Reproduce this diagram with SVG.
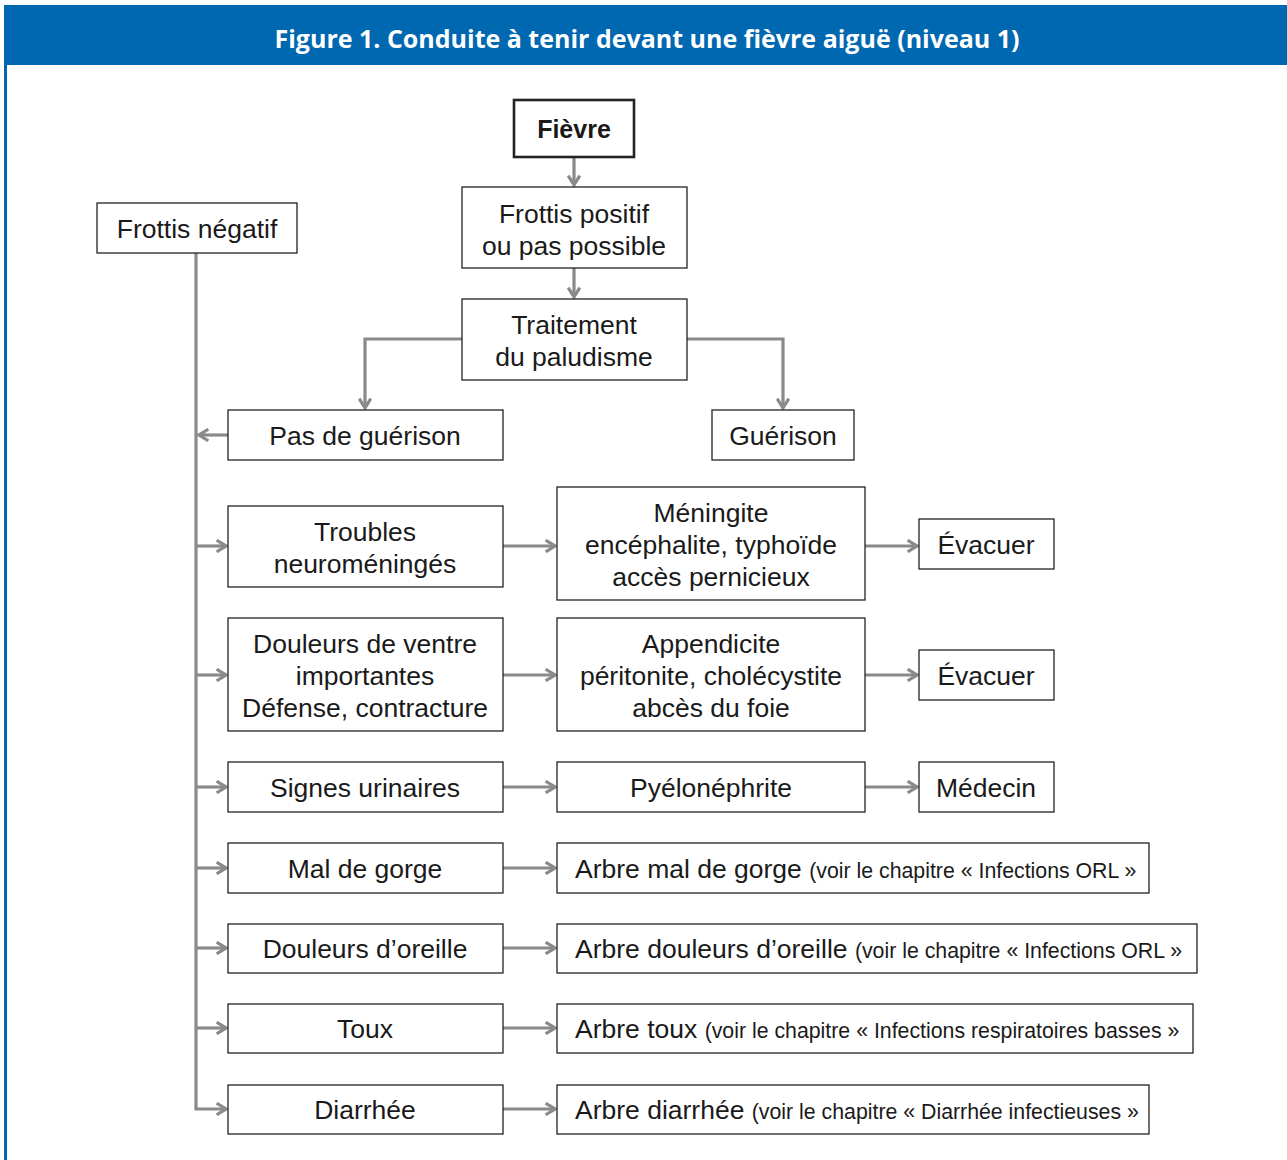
<svg xmlns="http://www.w3.org/2000/svg" width="1287" height="1160" viewBox="0 0 1287 1160">
<defs>
<style>
.box{fill:#fff;stroke:#222;stroke-width:1.3}
.bold{fill:#fff;stroke:#222;stroke-width:2.6}
text{font-family:"Liberation Sans",Arial,sans-serif;font-size:26.5px;fill:#1a1a1a;text-anchor:middle}
.s{font-size:21.3px}
.l{text-anchor:start}
.c{fill:none;stroke:#8a8a8a;stroke-width:3.2}
</style>
<marker id="ah" viewBox="0 0 10 10" refX="8.5" refY="5" markerWidth="4.5" markerHeight="4.5" markerUnits="strokeWidth" orient="auto">
<path d="M2,1 L8.5,5 L2,9" fill="none" stroke="#8a8a8a" stroke-width="2.2"/>
</marker>
</defs>
<rect x="0" y="0" width="1287" height="1160" fill="#fff"/>
<rect x="4" y="5" width="1283" height="60" fill="#0067b1"/>
<rect x="4" y="5" width="3" height="1155" fill="#0067b1"/>
<text x="647" y="48" style="font-family:'Open Sans','Liberation Sans',sans-serif;font-weight:bold;font-size:25px;fill:#fff" textLength="745" lengthAdjust="spacingAndGlyphs">Figure 1. Conduite à tenir devant une fièvre aiguë (niveau 1)</text>

<g id="connectors">
<path class="c" d="M574,157 V185" marker-end="url(#ah)"/>
<path class="c" d="M574,268 V297" marker-end="url(#ah)"/>
<path class="c" d="M462,339 H365 V408" marker-end="url(#ah)"/>
<path class="c" d="M687,339 H783 V408" marker-end="url(#ah)"/>
<path class="c" d="M196,253 V1109 H226" marker-end="url(#ah)"/>
<path class="c" d="M228,435 H199" marker-end="url(#ah)"/>
<path class="c" d="M196,546 H226" marker-end="url(#ah)"/>
<path class="c" d="M196,675 H226" marker-end="url(#ah)"/>
<path class="c" d="M196,787 H226" marker-end="url(#ah)"/>
<path class="c" d="M196,868 H226" marker-end="url(#ah)"/>
<path class="c" d="M196,948 H226" marker-end="url(#ah)"/>
<path class="c" d="M196,1028 H226" marker-end="url(#ah)"/>
<path class="c" d="M503,546 H555" marker-end="url(#ah)"/>
<path class="c" d="M503,675 H555" marker-end="url(#ah)"/>
<path class="c" d="M503,787 H555" marker-end="url(#ah)"/>
<path class="c" d="M503,868 H555" marker-end="url(#ah)"/>
<path class="c" d="M503,948 H555" marker-end="url(#ah)"/>
<path class="c" d="M503,1028 H555" marker-end="url(#ah)"/>
<path class="c" d="M503,1109 H555" marker-end="url(#ah)"/>
<path class="c" d="M865,546 H917" marker-end="url(#ah)"/>
<path class="c" d="M865,675 H917" marker-end="url(#ah)"/>
<path class="c" d="M865,787 H917" marker-end="url(#ah)"/>
</g>

<g id="fievre"><rect class="bold" x="514" y="100" width="120" height="57"/><text x="574" y="138" style="font-weight:bold;font-size:25px">Fièvre</text></g>
<g id="frottis-positif"><rect class="box" x="462" y="187" width="225" height="81"/><text x="574" y="223">Frottis positif</text><text x="574" y="255">ou pas possible</text></g>
<g id="traitement"><rect class="box" x="462" y="299" width="225" height="81"/><text x="574" y="334">Traitement</text><text x="574" y="366">du paludisme</text></g>
<g id="frottis-negatif"><rect class="box" x="97" y="203" width="200" height="50"/><text x="197" y="238">Frottis négatif</text></g>
<g id="pas-guerison"><rect class="box" x="228" y="410" width="275" height="50"/><text x="365" y="445">Pas de guérison</text></g>
<g id="guerison"><rect class="box" x="712" y="410" width="142" height="50"/><text x="783" y="445">Guérison</text></g>

<g id="troubles"><rect class="box" x="228" y="506" width="275" height="81"/><text x="365" y="541">Troubles</text><text x="365" y="573">neuroméningés</text></g>
<g id="meningite"><rect class="box" x="557" y="487" width="308" height="113"/><text x="711" y="522">Méningite</text><text x="711" y="554">encéphalite, typhoïde</text><text x="711" y="586">accès pernicieux</text></g>
<g id="evacuer1"><rect class="box" x="919" y="519" width="135" height="50"/><text x="986" y="554">Évacuer</text></g>

<g id="douleurs-ventre"><rect class="box" x="228" y="618" width="275" height="113"/><text x="365" y="653">Douleurs de ventre</text><text x="365" y="685">importantes</text><text x="365" y="717">Défense, contracture</text></g>
<g id="appendicite"><rect class="box" x="557" y="618" width="308" height="113"/><text x="711" y="653">Appendicite</text><text x="711" y="685">péritonite, cholécystite</text><text x="711" y="717">abcès du foie</text></g>
<g id="evacuer2"><rect class="box" x="919" y="650" width="135" height="50"/><text x="986" y="685">Évacuer</text></g>

<g id="signes-urinaires"><rect class="box" x="228" y="762" width="275" height="50"/><text x="365" y="797">Signes urinaires</text></g>
<g id="pyelonephrite"><rect class="box" x="557" y="762" width="308" height="50"/><text x="711" y="797">Pyélonéphrite</text></g>
<g id="medecin"><rect class="box" x="919" y="762" width="135" height="50"/><text x="986" y="797">Médecin</text></g>

<g id="mal-gorge"><rect class="box" x="228" y="843" width="275" height="50"/><text x="365" y="878">Mal de gorge</text></g>
<g id="arbre-gorge"><rect class="box" x="557" y="843" width="592" height="50"/><text class="l" x="575" y="878">Arbre mal de gorge <tspan class="s">(voir le chapitre « Infections ORL »</tspan></text></g>

<g id="douleurs-oreille"><rect class="box" x="228" y="924" width="275" height="49"/><text x="365" y="958">Douleurs d’oreille</text></g>
<g id="arbre-oreille"><rect class="box" x="557" y="924" width="640" height="49"/><text class="l" x="575" y="958">Arbre douleurs d’oreille <tspan class="s">(voir le chapitre « Infections ORL »</tspan></text></g>

<g id="toux"><rect class="box" x="228" y="1004" width="275" height="49"/><text x="365" y="1038">Toux</text></g>
<g id="arbre-toux"><rect class="box" x="557" y="1004" width="636" height="49"/><text class="l" x="575" y="1038">Arbre toux <tspan class="s">(voir le chapitre « Infections respiratoires basses »</tspan></text></g>

<g id="diarrhee"><rect class="box" x="228" y="1085" width="275" height="49"/><text x="365" y="1119">Diarrhée</text></g>
<g id="arbre-diarrhee"><rect class="box" x="557" y="1085" width="592" height="49"/><text class="l" x="575" y="1119">Arbre diarrhée <tspan class="s">(voir le chapitre « Diarrhée infectieuses »</tspan></text></g>
</svg>
